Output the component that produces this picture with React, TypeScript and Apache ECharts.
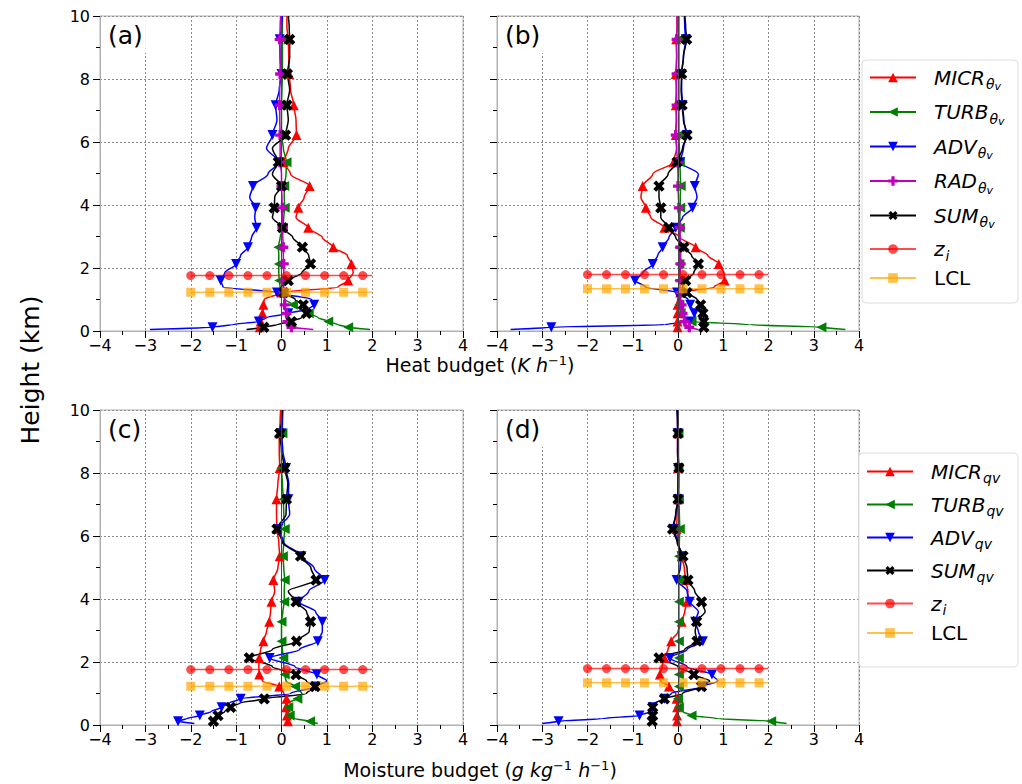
import React, { useEffect, useRef } from "react";
import * as echarts from "echarts";

// Model levels (km) shared by all profiles
const Z = [0.05, 0.12, 0.2, 0.3, 0.43, 0.56, 0.7, 0.83, 1.0, 1.22, 1.4, 1.6, 1.85, 2.13, 2.4, 2.66, 2.97, 3.28, 3.6, 3.91, 4.25, 4.6, 4.98, 5.36, 5.8, 6.22, 6.7, 7.17, 7.66, 8.16, 8.7, 9.26, 9.63, 10];
// Levels at which markers are drawn
const MARK_Z = [0.12, 0.3, 0.56, 0.83, 1.22, 1.6, 2.13, 2.66, 3.28, 3.91, 4.6, 5.36, 6.22, 7.17, 8.16, 9.26];

// (a) heat budget, case 1
const MICR_A = [-0.5, -0.48, -0.47, -0.46, -0.45, -0.42, -0.4, -0.4, -0.38, 0.0, 1.25, 1.47, 1.58, 1.54, 1.45, 1.14, 0.9, 0.59, 0.32, 0.37, 0.5, 0.62, 0.2, 0.05, 0.15, 0.33, 0.32, 0.27, 0.2, 0.17, 0.16, 0.15, 0.12, 0.12];
const TURB_A = [1.95, 1.47, 1.25, 1.03, 0.8, 0.6, 0.42, 0.25, 0.08, 0.0, -0.03, -0.05, -0.06, -0.06, -0.06, -0.07, -0.03, 0.03, 0.05, 0.07, 0.06, 0.06, 0.1, 0.11, 0.04, 0.0, 0.0, 0.0, 0.01, 0.02, 0.02, 0.02, 0.02, 0.02];
const ADV_A = [-2.9, -1.52, -1.1, -0.5, -0.33, 0.15, 0.6, 0.72, 0.66, -0.1, -1.29, -1.34, -1.25, -1.0, -0.9, -0.74, -0.66, -0.55, -0.59, -0.57, -0.7, -0.63, -0.3, -0.05, -0.33, -0.2, -0.1, -0.13, -0.05, 0.0, -0.03, -0.04, 0.0, 0.02];
const RAD_A = [0.7, 0.22, 0.15, 0.13, 0.12, 0.11, 0.09, 0.07, 0.06, 0.05, 0.05, 0.05, 0.05, 0.05, 0.04, 0.04, 0.03, 0.02, 0.02, 0.02, 0.01, 0.0, 0.0, -0.03, -0.03, -0.03, -0.04, -0.04, -0.04, -0.03, -0.03, -0.04, -0.03, -0.02];
const SUM_A = [-0.77, -0.39, -0.1, 0.22, 0.45, 0.55, 0.5, 0.48, 0.3, 0.05, 0.0, 0.15, 0.45, 0.64, 0.6, 0.46, 0.25, 0.02, -0.2, -0.16, -0.15, 0.0, -0.2, -0.07, -0.2, 0.09, 0.15, 0.12, 0.18, 0.13, 0.18, 0.18, 0.17, 0.15];

// (b) heat budget, case 2
const MICR_B = [-0.01, -0.01, -0.01, -0.01, -0.01, -0.01, -0.01, -0.01, -0.01, 0.05, 0.8, 1.03, 1.01, 0.9, 0.66, 0.39, 0.05, -0.3, -0.6, -0.71, -0.82, -0.78, -0.56, -0.1, -0.03, -0.05, -0.03, -0.05, -0.04, -0.05, -0.03, -0.04, -0.02, -0.02];
const TURB_B = [3.7, 3.17, 1.6, 0.3, 0.12, 0.06, 0.04, 0.03, 0.03, 0.03, 0.03, 0.03, 0.03, 0.03, 0.03, 0.03, 0.03, 0.04, 0.04, 0.05, 0.05, 0.06, 0.05, 0.04, 0.03, 0.02, 0.02, 0.02, 0.02, 0.02, 0.02, 0.02, 0.02, 0.02];
const ADV_B = [-3.7, -2.8, -0.3, 0.25, 0.38, 0.36, 0.32, 0.27, 0.22, -0.02, -0.72, -0.95, -0.78, -0.56, -0.45, -0.34, -0.2, -0.05, 0.1, 0.32, 0.42, 0.37, 0.45, 0.05, 0.12, 0.19, 0.13, 0.1, 0.08, 0.08, 0.12, 0.17, 0.15, 0.14];
const RAD_B = [0.45, 0.25, 0.18, 0.15, 0.12, 0.1, 0.09, 0.08, 0.06, 0.05, 0.05, 0.05, 0.05, 0.06, 0.06, 0.05, 0.05, 0.04, 0.03, 0.02, 0.01, 0.0, 0.0, -0.01, -0.03, -0.05, -0.04, -0.03, -0.03, -0.03, -0.03, -0.03, -0.02, -0.02];
const SUM_B = [0.57, 0.57, 0.57, 0.57, 0.56, 0.55, 0.52, 0.5, 0.42, 0.2, 0.1, 0.17, 0.35, 0.45, 0.3, 0.13, -0.05, -0.2, -0.38, -0.38, -0.42, -0.42, -0.22, -0.02, 0.1, 0.2, 0.12, 0.09, 0.07, 0.08, 0.12, 0.19, 0.17, 0.15];

// (c) moisture budget, case 1
const MICR_C = [0.15, 0.14, 0.13, 0.12, 0.1, 0.1, 0.1, 0.11, 0.05, -0.05, -0.42, -0.49, -0.5, -0.49, -0.46, -0.4, -0.33, -0.27, -0.24, -0.22, -0.15, -0.18, -0.08, -0.04, -0.06, -0.1, -0.11, -0.11, -0.08, -0.04, -0.05, -0.05, -0.03, -0.02];
const TURB_C = [0.8, 0.63, 0.3, 0.18, 0.15, 0.15, 0.12, 0.35, 0.45, 0.3, 0.1, 0.07, 0.05, 0.04, 0.02, 0.0, 0.0, 0.0, 0.03, 0.06, 0.06, 0.07, 0.05, 0.03, 0.05, 0.07, 0.05, 0.04, 0.02, 0.0, 0.0, 0.02, 0.02, 0.02];
const ADV_C = [-1.92, -2.28, -2.1, -1.8, -1.55, -1.32, -1.15, -0.9, 0.2, 0.75, 1.0, 0.78, 0.3, -0.26, 0.4, 0.8, 0.9, 0.9, 0.75, 0.38, 0.6, 0.95, 0.72, 0.44, 0.05, -0.07, 0.18, 0.15, 0.16, 0.1, 0.03, 0.0, 0.02, 0.03];
const SUM_C = [-1.55, -1.5, -1.46, -1.4, -1.25, -1.12, -0.92, -0.38, 0.55, 0.74, 0.55, 0.32, -0.2, -0.71, -0.2, 0.33, 0.61, 0.64, 0.55, 0.32, 0.15, 0.76, 0.65, 0.42, 0.02, -0.1, 0.1, 0.11, 0.14, 0.07, 0.0, -0.04, 0.0, 0.02];

// (d) moisture budget, case 2
const MICR_D = [-0.02, -0.02, -0.02, -0.02, -0.02, -0.02, -0.02, -0.03, -0.05, -0.2, -0.38, -0.4, -0.35, -0.3, -0.22, -0.15, 0.0, 0.08, 0.15, 0.2, 0.22, 0.17, 0.14, 0.08, 0.0, -0.03, -0.02, 0.0, 0.0, 0.0, -0.01, -0.01, -0.01, -0.01];
const TURB_D = [2.4, 2.06, 0.9, 0.3, 0.1, 0.02, 0.0, 0.0, 0.01, 0.02, 0.02, 0.02, 0.02, 0.02, 0.02, 0.02, 0.02, 0.02, 0.02, 0.02, 0.02, 0.02, 0.02, 0.02, 0.03, 0.04, 0.03, 0.02, 0.02, 0.01, 0.01, 0.01, 0.0, 0.0];
const ADV_D = [-3.0, -2.64, -1.7, -0.85, -0.6, -0.56, -0.5, -0.3, -0.15, 0.55, 0.88, 0.75, 0.2, -0.18, 0.2, 0.55, 0.45, 0.38, 0.45, 0.26, 0.2, -0.03, 0.05, 0.08, 0.0, -0.1, -0.05, 0.0, 0.0, 0.0, -0.01, -0.01, -0.01, -0.02];
const SUM_D = [-0.58, -0.57, -0.56, -0.56, -0.56, -0.56, -0.5, -0.3, 0.1, 0.52, 0.7, 0.35, 0.0, -0.42, 0.15, 0.42, 0.38, 0.41, 0.6, 0.52, 0.37, 0.22, 0.2, 0.11, -0.02, -0.12, -0.05, 0.0, 0.01, 0.02, 0.0, 0.0, -0.01, -0.02];

// Boundary-layer height (z_i) and LCL (km) per panel
const ZI_H = [1.76, 1.79, 1.76, 1.79];
const LCL_H = [1.23, 1.34, 1.23, 1.34];
// x positions of the horizontal reference lines
const LINE_X = [-2, -1.79, -1.58, -1.37, -1.16, -0.95, -0.74, -0.53, -0.32, -0.11, 0.11, 0.32, 0.53, 0.74, 0.95, 1.16, 1.37, 1.58, 1.79, 2.0];

const PANEL_LABELS = ["(a)", "(b)", "(c)", "(d)"];

const FONT = "DejaVu Sans";
const PLUS = "path://M-1,-3L1,-3L1,-1L3,-1L3,1L1,1L1,3L-1,3L-1,1L-3,1L-3,-1L-1,-1Z";

const SPECS: Record<string, { color: string; symbol: string; rotate: number; size: number }> = {
  MICR: { color: "#ff0000", symbol: "triangle", rotate: 0, size: 10 },
  TURB: { color: "#008000", symbol: "triangle", rotate: 90, size: 10 },
  ADV: { color: "#0000ff", symbol: "triangle", rotate: 180, size: 10 },
  RAD: { color: "#bf00bf", symbol: PLUS, rotate: 0, size: 10 },
  SUM: { color: "#000000", symbol: PLUS, rotate: 45, size: 12 },
};

const GRIDS = [
  { left: 100, top: 16, width: 363, height: 315 },
  { left: 497, top: 16, width: 362, height: 315 },
  { left: 100, top: 410, width: 363, height: 315 },
  { left: 497, top: 410, width: 362, height: 315 },
];

const PANELS: { suffix: string; profiles: [string, number[]][] }[] = [
  { suffix: "θ", profiles: [["MICR", MICR_A], ["TURB", TURB_A], ["ADV", ADV_A], ["RAD", RAD_A], ["SUM", SUM_A]] },
  { suffix: "θ", profiles: [["MICR", MICR_B], ["TURB", TURB_B], ["ADV", ADV_B], ["RAD", RAD_B], ["SUM", SUM_B]] },
  { suffix: "q", profiles: [["MICR", MICR_C], ["TURB", TURB_C], ["ADV", ADV_C], ["SUM", SUM_C]] },
  { suffix: "q", profiles: [["MICR", MICR_D], ["TURB", TURB_D], ["ADV", ADV_D], ["SUM", SUM_D]] },
];

const minus = (v: number) => (v < 0 ? "\u2212" + Math.abs(v) : String(v));

function profileSeries(kind: string, xs: number[], gi: number, suffix: string, first: boolean) {
  const s = SPECS[kind];
  const ser: any = {
    type: "line",
    name: kind + suffix,
    xAxisIndex: gi,
    yAxisIndex: gi,
    data: Z.map((z, i) => (MARK_Z.includes(z) ? { value: [xs[i], z] } : { value: [xs[i], z], symbol: "none" })),
    smooth: 0.3,
    smoothMonotone: "y",
    showSymbol: true,
    showAllSymbol: true,
    symbol: s.symbol,
    symbolRotate: s.rotate,
    symbolSize: s.size,
    lineStyle: { color: s.color, width: 1.5 },
    itemStyle: { color: s.color },
    silent: true,
  };
  if (first) {
    ser.markLine = {
      silent: true,
      symbol: "none",
      label: { show: false },
      lineStyle: { color: "#444", width: 1, type: "solid" },
      data: [{ xAxis: 0 }],
    };
  }
  return ser;
}

function refSeries(name: string, h: number, gi: number, color: string, symbol: string, size: number) {
  return {
    type: "line",
    name,
    xAxisIndex: gi,
    yAxisIndex: gi,
    data: LINE_X.map((x, i) => (i % 2 === 0 ? { value: [x, h] } : { value: [x, h], symbol: "none" })),
    showSymbol: true,
    showAllSymbol: true,
    symbol,
    symbolSize: size,
    lineStyle: { color, width: 1.5, opacity: 0.7 },
    itemStyle: { color, opacity: 0.7 },
    silent: true,
  };
}

const LEG_TEXT: Record<string, string> = {
  "MICRθ": "{sp| }{m|MICR}{s|θ}{ss|v}",
  "TURBθ": "{sp| }{m|TURB}{s|θ}{ss|v}",
  "ADVθ": "{sp| }{m|ADV}{s|θ}{ss|v}",
  "RADθ": "{sp| }{m|RAD}{s|θ}{ss|v}",
  "SUMθ": "{sp| }{m|SUM}{s|θ}{ss|v}",
  "MICRq": "{sp| }{m|MICR}{s|qv}",
  "TURBq": "{sp| }{m|TURB}{s|qv}",
  "ADVq": "{sp| }{m|ADV}{s|qv}",
  "SUMq": "{sp| }{m|SUM}{s|qv}",
  zi: "{sp| }{m|z}{s|i}",
  LCL: "{sp| }{n|LCL}",
};

const legendRich = {
  sp: { width: 13, fontSize: 10 },
  m: { fontSize: 20, fontStyle: "italic", fontFamily: FONT, lineHeight: 29, color: "#000" },
  n: { fontSize: 20, fontFamily: FONT, lineHeight: 29, color: "#000" },
  s: { fontSize: 14, fontStyle: "italic", fontFamily: FONT, lineHeight: 14, padding: [13, 0, 0, 1], color: "#000" },
  ss: { fontSize: 11, fontStyle: "italic", fontFamily: FONT, lineHeight: 11, padding: [18, 0, 0, 0], color: "#000" },
};

function legend(names: string[], left: number, top: number, gap: number) {
  return {
    data: names,
    orient: "vertical",
    left,
    top,
    padding: 0,
    itemWidth: 46,
    itemHeight: 12,
    itemGap: gap,
    selectedMode: false,
    formatter: (n: string) => LEG_TEXT[n] || n,
    textStyle: { fontFamily: FONT, fontSize: 20, color: "#000", rich: legendRich },
    z: 10,
  };
}

function buildOption() {
  const series: any[] = [];
  PANELS.forEach((p, gi) => {
    p.profiles.forEach(([kind, xs], k) => series.push(profileSeries(kind, xs, gi, p.suffix, k === 0)));
    series.push(refSeries("zi", ZI_H[gi], gi, "#ff0000", "circle", 9));
    series.push(refSeries("LCL", LCL_H[gi], gi, "#ffa500", "rect", 9));
  });

  const axisCommon = {
    axisLine: { show: true, onZero: false, lineStyle: { color: "#b0b0b0", width: 1 } },
    axisTick: { show: true, length: 7, lineStyle: { color: "#000", width: 1 } },
    minorTick: { show: true, splitNumber: 2, length: 4, lineStyle: { color: "#000", width: 1 } },
    splitLine: { show: true, lineStyle: { type: [2, 2], color: "#8c8c8c", width: 1 } },
  };

  const titleRich = {
    a: { fontSize: 19, fontFamily: FONT, lineHeight: 24, color: "#000" },
    i: { fontSize: 19, fontFamily: FONT, fontStyle: "italic", lineHeight: 24, color: "#000" },
    c: { fontSize: 13, fontFamily: FONT, lineHeight: 13, padding: [0, 0, 9, 0], color: "#000" },
  };

  const graphic: any[] = [
    { type: "rect", z: 1, silent: true, shape: { x: 862, y: 60, width: 156, height: 243, r: 4 }, style: { fill: "#fff", stroke: "#dddddd", lineWidth: 1 } },
    { type: "rect", z: 1, silent: true, shape: { x: 859, y: 453, width: 159, height: 214, r: 4 }, style: { fill: "#fff", stroke: "#dddddd", lineWidth: 1 } },
    {
      type: "text", z: 5, silent: true, x: 480, y: 365,
      style: { text: "{a|Heat budget (}{i|K h}{c|−1}{a|)}", rich: titleRich, align: "center", verticalAlign: "middle", fontFamily: FONT, fontSize: 19 },
    },
    {
      type: "text", z: 5, silent: true, x: 480, y: 770,
      style: { text: "{a|Moisture budget (}{i|g kg}{c|−1}{i| h}{c|−1}{a|)}", rich: titleRich, align: "center", verticalAlign: "middle", fontFamily: FONT, fontSize: 19 },
    },
    {
      type: "text", z: 5, silent: true, x: 30, y: 370, rotation: Math.PI / 2,
      style: { text: "Height (km)", align: "center", verticalAlign: "middle", fontFamily: FONT, fontSize: 25, fill: "#000" },
    },
  ];
  PANEL_LABELS.forEach((lab, gi) => {
    graphic.push({
      type: "text", z: 5, silent: true, x: GRIDS[gi].left + 5, y: GRIDS[gi].top + 1,
      style: { text: lab, fontFamily: FONT, fontSize: 25, fill: "#000", backgroundColor: "#fff", padding: [6, 3, 5, 3] },
    });
  });

  return {
    animation: false,
    backgroundColor: "#fff",
    grid: GRIDS.map((g) => ({ ...g, show: true, borderColor: "#b0b0b0", borderWidth: 1, backgroundColor: "transparent" })),
    xAxis: GRIDS.map((_, gi) => ({
      type: "value", gridIndex: gi, min: -4, max: 4, interval: 1,
      ...axisCommon,
      axisLabel: { fontSize: 16, color: "#000", fontFamily: FONT, margin: 6, formatter: minus },
    })),
    yAxis: GRIDS.map((_, gi) => ({
      type: "value", gridIndex: gi, min: 0, max: 10, interval: 2,
      ...axisCommon,
      axisLabel: { show: gi % 2 === 0, fontSize: 16, color: "#000", fontFamily: FONT, margin: 10 },
    })),
    legend: [
      legend(["MICRθ", "TURBθ", "ADVθ", "RADθ", "SUMθ", "zi", "LCL"], 869, 63, 5.5),
      legend(["MICRq", "TURBq", "ADVq", "SUMq", "zi", "LCL"], 866, 458, 6),
    ],
    graphic,
    series,
  };
}

export default function App() {
  const ref = useRef<HTMLDivElement>(null);
  useEffect(() => {
    document.body.style.margin = "0";
    const chart = echarts.init(ref.current!, undefined, { renderer: "svg" });
    chart.setOption(buildOption() as any);
    return () => chart.dispose();
  }, []);
  return <div ref={ref} style={{ width: 1022, height: 784 }} />;
}
